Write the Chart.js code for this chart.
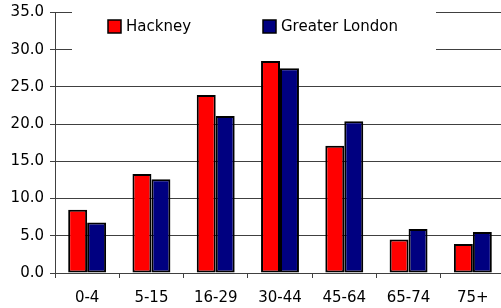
<!DOCTYPE html>
<html>
<head>
<meta charset="utf-8">
<script src="https://cdn.jsdelivr.net/npm/chart.js@4.4.1/dist/chart.umd.min.js"></script>
<style>
  html, body { margin: 0; padding: 0; background: #fff; overflow: hidden; }
</style>
</head>
<body>
<canvas id="myChart" width="505" height="308"></canvas>
<script>
const ageGroups = ['0-4', '5-15', '16-29', '30-44', '45-64', '65-74', '75+'];
const hackney = [8.5, 13.3, 23.9, 28.5, 17.1, 4.5, 3.9];
const greaterLondon = [6.8, 12.6, 21.1, 27.5, 20.4, 5.9, 5.5];
const yTicks = [0, 5, 10, 15, 20, 25, 30, 35];

const font = { family: 'DejaVu Sans', size: 15 };

// legend drawn inside the plot on a white box (it hides the top gridlines)
const boxLegend = {
    id: 'boxLegend',
    afterDraw(chart) {
        const c = chart.ctx;
        c.save();
        c.fillStyle = '#fff';
        c.fillRect(72, 4, 364, 49);
        c.font = '15px "DejaVu Sans"';
        c.textBaseline = 'middle';
        const xs = [108, 263];
        chart.data.datasets.forEach((ds, i) => {
            c.fillStyle = ds.backgroundColor;
            c.fillRect(xs[i], 20, 13, 13);
            c.strokeStyle = '#000';
            c.lineWidth = 1.5;
            c.strokeRect(xs[i], 20, 13, 13);
            c.fillStyle = '#000';
            c.fillText(ds.label, xs[i] + 18, 27);
        });
        c.restore();
    }
};

new Chart(document.getElementById('myChart').getContext('2d'), {
    type: 'bar',
    data: {
        labels: ageGroups,
        datasets: [{
            label: 'Hackney',
            data: hackney,
            backgroundColor: '#ff0000',
            borderColor: '#000',
            borderWidth: 2,
            borderSkipped: false
        }, {
            label: 'Greater London',
            data: greaterLondon,
            backgroundColor: '#000080',
            borderColor: '#000',
            borderWidth: 2,
            borderSkipped: false
        }]
    },
    options: {
        responsive: false,
        animation: false,
        categoryPercentage: 0.59,
        barPercentage: 1.0,
        layout: { padding: 0 },
        plugins: {
            legend: { display: false },
            tooltip: { enabled: false }
        },
        scales: {
            x: {
                grid: { offset: true, drawOnChartArea: false, drawTicks: true, tickLength: 5, color: '#404040' },
                border: { color: '#404040', width: 1 },
                ticks: { color: '#000', font: font, padding: 11, maxRotation: 0 },
                afterFit: s => { s.height = 35; }
            },
            y: {
                min: 0,
                max: 35,
                afterBuildTicks: s => { s.ticks = yTicks.map(v => ({ value: v })); },
                grid: { color: '#404040', tickLength: 5 },
                border: { color: '#404040', width: 1 },
                ticks: { color: '#000', font: { family: 'DejaVu Sans', size: 15, lineHeight: 13 / 15 }, padding: 6, callback: v => v.toFixed(1) },
                afterFit: s => { s.width = 55; }
            }
        }
    },
    plugins: [boxLegend]
});
</script>
</body>
</html>
